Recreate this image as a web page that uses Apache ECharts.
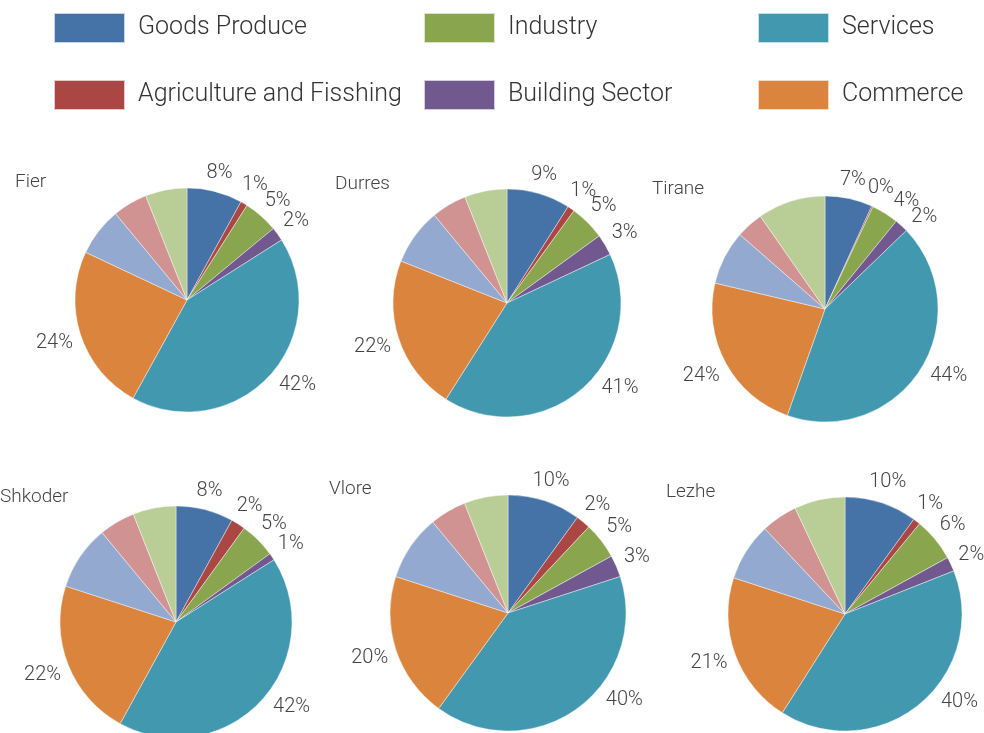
<!DOCTYPE html>
<html>
<head>
<meta charset="utf-8">
<script src="https://cdn.jsdelivr.net/npm/echarts@6/dist/echarts.min.js"></script>
<style>
  html, body { margin: 0; padding: 0; background: #fff; }
  #chart { width: 984px; height: 733px; }
</style>
</head>
<body>
<div id="chart"></div>
<script>
// ---- data ----
const cities = ['Fier', 'Durres', 'Tirane', 'Shkoder', 'Vlore', 'Lezhe'];
const sectors = ['Goods Produce', 'Agriculture and Fisshing', 'Industry', 'Building Sector', 'Services', 'Commerce', 'Other A', 'Other B', 'Other C'];
const goodsProduce = [8, 9, 7, 8, 10, 10];
const agriculture  = [1, 1, 0.2, 2, 2, 1];
const industry     = [5, 5, 4, 5, 5, 6];
const building     = [2, 3, 2, 1, 3, 2];
const services     = [42, 41, 44, 42, 40, 40];
const commerce     = [24, 22, 24, 22, 20, 21];
const otherA       = [7, 8, 8, 9, 9, 8];
const otherB       = [5, 5, 4, 5, 5, 5];
const otherC       = [6, 6, 10, 6, 6, 7];
const labelledCount = 6;

// ---- layout / style ----
const palette = ['#4572A7', '#AA4643', '#89A54E', '#71588F', '#4198AF', '#DB843D', '#93A9CF', '#D19392', '#B9CD96'];
const pieCenters = [[187, 300], [507, 303], [825, 309], [176, 622], [508, 613], [845, 614]];
const pieRadii = [112, 114, 113, 116, 118, 117];
const labelMaxY = [385, 388, 376, 707, 700, 702];   // plot-area bound for label centres
const titlePos = [[15, 173], [335, 175], [652, 180], [0, 488], [329, 480], [666, 483]];
const FONT = "'Helvetica Neue', Roboto, 'Liberation Sans', sans-serif";
const textColor = '#444';
const LABEL_SIZE = 20;
const labelGap = 7;

const columns = [goodsProduce, agriculture, industry, building, services, commerce, otherA, otherB, otherC];
const cityValues = cities.map((c, ci) => columns.map(col => col[ci]));
const fmt = v => Math.round(v) + '%';

// measure label text
const mctx = document.createElement('canvas').getContext('2d');
mctx.font = '300 ' + LABEL_SIZE + "px Roboto";

// Outside-end label placement (Excel-like): centred on the slice's mid-angle ray,
// kept inside plot bound and nudged clockwise when overlapping the previous label.
function computeLabelPositions(ci) {
  const vals = cityValues[ci];
  const total = vals.reduce((a, b) => a + b, 0);
  const c = pieCenters[ci], r = pieRadii[ci];
  const out = [];
  let before = 0, prev = null;
  const deg = Math.PI / 180;
  for (let i = 0; i < labelledCount; i++) {
    const w = mctx.measureText(fmt(vals[i])).width, h = LABEL_SIZE - 2;
    let th = (before + vals[i] / 2) / total * Math.PI * 2;
    before += vals[i];
    const place = t => {
      const dx = Math.sin(t), dy = -Math.cos(t);
      const d = r + labelGap + Math.abs(dx) * w / 2 + Math.abs(dy) * h / 2;
      return { x: c[0] + dx * d, y: c[1] + dy * d };
    };
    let p = place(th);
    let n = 0;
    while (p.y > labelMaxY[ci] && n < 240) {
      th += (Math.sin(th) > 0 ? -1 : 1) * 0.25 * deg;
      p = place(th); n++;
    }
    const overlaps = (a, b) => Math.abs(a.x - b.x) < (a.w + b.w) / 2 - 1 && Math.abs(a.y - b.y) < (a.h + b.h) / 2 - 3;
    n = 0;
    while (prev && overlaps({ x: p.x, y: p.y, w, h }, prev) && n < 120) {
      th += 0.5 * deg;
      p = place(th); n++;
    }
    prev = { x: p.x, y: p.y, w, h };
    out.push(p);
  }
  return out;
}

const chart = echarts.init(document.getElementById('chart'), null, { renderer: 'canvas' });

function labelLayoutFor(ci) {
  let pos = null;
  return function (params) {
    if (!pos) pos = computeLabelPositions(ci);
    const p = pos[params.dataIndex];
    if (!p) return {};
    return { x: p.x, y: p.y, align: 'center', verticalAlign: 'middle' };
  };
}

const series = cities.map((city, ci) => ({
  type: 'pie',
  name: city,
  center: pieCenters[ci],
  radius: pieRadii[ci],
  startAngle: 90,
  clockwise: true,
  avoidLabelOverlap: false,
  animation: false,
  itemStyle: { borderColor: 'rgba(255,255,255,0.7)', borderWidth: 0.6 },
  emphasis: { disabled: true },
  label: {
    show: true,
    position: 'outside',
    fontFamily: FONT,
    fontWeight: 300,
    fontSize: LABEL_SIZE,
    color: textColor,
    formatter: p => fmt(p.value)
  },
  labelLine: { show: false },
  labelLayout: labelLayoutFor(ci),
  data: sectors.map((s, si) => ({
    name: s,
    value: cityValues[ci][si],
    label: { show: si < labelledCount }
  }))
}));

const legendCols = [
  ['Goods Produce', 'Agriculture and Fisshing'],
  ['Industry', 'Building Sector'],
  ['Services', 'Commerce']
];
const legendLeft = [53, 423, 757];

const option = {
  backgroundColor: '#fff',
  color: palette,
  animation: false,
  title: cities.map((c, ci) => ({
    text: c,
    left: titlePos[ci][0],
    top: titlePos[ci][1],
    padding: 0,
    textStyle: { fontFamily: FONT, fontWeight: 300, fontSize: 19, color: textColor }
  })),
  legend: legendCols.map((names, li) => ({
    data: names,
    orient: 'vertical',
    left: legendLeft[li],
    top: 12,
    padding: 0,
    itemWidth: 71,
    itemHeight: 30,
    itemGap: 35,
    icon: 'rect',
    selectedMode: false,
    textStyle: { fontFamily: FONT, fontWeight: 300, fontSize: 25, color: '#333', padding: [0, 0, 0, 8] }
  })),
  series: series
};
chart.setOption(option);
</script>
</body>
</html>
